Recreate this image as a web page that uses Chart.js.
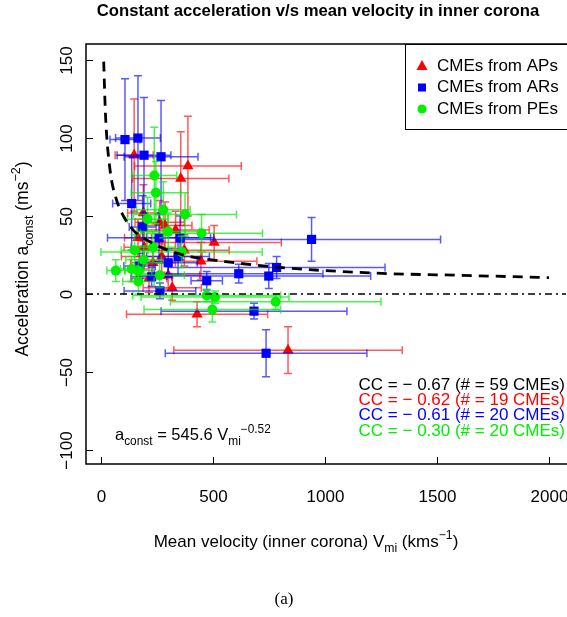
<!DOCTYPE html>
<html>
<head>
<meta charset="utf-8">
<script src="https://cdn.jsdelivr.net/npm/chart.js@4.4.0/dist/chart.umd.min.js"></script>
<style>
  html, body { margin: 0; padding: 0; background: #fff; overflow: hidden; }
</style>
</head>
<body>
<canvas id="chart" width="567" height="617"></canvas>
<script>
// CMEs from active prominences (APs) - red triangles
const apV    = [148, 388, 356, 189, 286, 333, 505, 193, 271, 446, 318, 429, 835, 232, 165, 262, 300, 214, 372];
const apA    = [ 89,  82,  74,  52,  44,  41,  33,  30,  24,  21,   4, -13, -36,  20,  36,  46,  12,  10,  28];
const apVerr = [ 85, 238, 215,  70, 120, 150, 300,  90, 180, 250, 130, 315, 510, 100,  60, 110, 140,  80, 200];
const apAerr = [ 36,  32,  30,  18,  15,  12,  11,  14,  10,  12,   8,   8,  15,  10,  12,  14,   9,   9,  10];

// CMEs from active regions (ARs) - blue squares
const arV    = [107, 165, 192, 268, 137, 186, 259, 353, 344, 940, 784, 615, 749, 472, 263, 683, 737, 226, 172, 300];
const arA    = [ 99, 100,  89,  88,  58,  43,  36,  36,  24,  35,  17,  13, 11.5, 8.5,  2, -11, -38,  11,  18,  20];
const arVerr = [ 67, 100, 120, 165,  85,  60, 230, 150, 140, 576, 484, 376, 455,  70, 160, 415, 450,  90,  70, 130];
const arAerr = [ 39,  40,  37,  36,  30,  20,  15,  14,  12,  14,   7,   6,   8,   6,   5,   5,  15,   6,   8,   9];

// CMEs from prominence eruptions (PEs) - green circles
const peV    = [238, 245, 278, 375, 208, 449, 360,  66, 137, 167, 167, 472, 509, 780, 497, 190, 232, 300, 150, 262];
const peA    = [ 76,  65,  54,  51,  48,  39,  27,  15,  16,  15,   8,  -1,  -2,  -5, -10,  22,  30,  40,  28,  12];
const peVerr = [100, 110, 120, 230,  90, 272, 360,  40,  50,  60,  70, 330, 330, 470, 305,  80, 100, 140,  60, 110];
const peAerr = [ 31,  20,  18,  14,  14,  12,  10,   7,   8,   7,   8,   4,   4,   5,   8,   9,  10,  12,  10,   8];

// power-law fit a_const = 545.6 V_mi^-0.52
const fitV = [12, 20, 40, 70, 100, 150, 200, 300, 400, 600, 800, 1000, 1300, 1600, 2000];
const fitA = [149, 115, 80, 60, 50, 40, 35, 28, 24, 20, 17, 15, 13, 12, 10.5];

const xTicks = [0, 500, 1000, 1500, 2000];
const yTicks = [-100, -50, 0, 50, 100, 150];
const legendLabels = ['CMEs from APs', 'CMEs from ARs', 'CMEs from PEs'];
const ccLines = ['CC = \u2212 0.67 (# = 59 CMEs)', 'CC = \u2212 0.62 (# = 19 CMEs)',
                 'CC = \u2212 0.61 (# = 20 CMEs)', 'CC = \u2212 0.30 (# = 20 CMEs)'];

const RED = '#FF0000', BLUE = '#0000FF', GREEN = '#00F000';
const FONT = "'Liberation Sans', Arial, Helvetica, sans-serif";
const X_MIN = -67, X_MAX = 2076, Y_MIN = -109, Y_MAX = 160.3;

function toPoints(xs, ys) {
    return xs.map((v, i) => ({ x: v, y: ys[i] }));
}

// draw text made of normal / sub / sup pieces
function richWidth(ctx, parts, size) {
    let w = 0;
    parts.forEach(([t, m]) => {
        ctx.font = (m ? size * 0.72 : size) + 'px ' + FONT;
        w += ctx.measureText(t).width;
    });
    return w;
}
function drawRich(ctx, parts, x, y, size) {
    let cx = x;
    parts.forEach(([t, m]) => {
        const s = m ? size * 0.72 : size;
        ctx.font = s + 'px ' + FONT;
        let dy = 0;
        if (m === 'sub') dy = size * 0.3;
        if (m === 'sup') dy = -size * 0.45;
        ctx.fillText(t, cx, y + dy);
        cx += ctx.measureText(t).width;
    });
}

// error bars drawn just before each dataset's markers
const errorBars = {
    id: 'errorBars',
    beforeDatasetDraw(chart, args) {
        const ds = chart.data.datasets[args.index];
        if (!ds.errX) return;
        const { ctx, chartArea: a } = chart;
        const xs = chart.scales.x, ys = chart.scales.y;
        ctx.save();
        ctx.beginPath();
        ctx.rect(a.left, a.top, a.right - a.left, a.bottom - a.top);
        ctx.clip();
        ctx.strokeStyle = ds.barColor;
        ctx.lineWidth = 1.5;
        ds.data.forEach((p, i) => {
            const px = xs.getPixelForValue(p.x), py = ys.getPixelForValue(p.y);
            const x0 = xs.getPixelForValue(p.x - ds.errX[i]), x1 = xs.getPixelForValue(p.x + ds.errX[i]);
            const y0 = ys.getPixelForValue(p.y - ds.errY[i]), y1 = ys.getPixelForValue(p.y + ds.errY[i]);
            ctx.beginPath();
            ctx.moveTo(x0, py); ctx.lineTo(x1, py);
            ctx.moveTo(x0, py - 4); ctx.lineTo(x0, py + 4);
            ctx.moveTo(x1, py - 4); ctx.lineTo(x1, py + 4);
            ctx.moveTo(px, y0); ctx.lineTo(px, y1);
            ctx.moveTo(px - 4, y0); ctx.lineTo(px + 4, y0);
            ctx.moveTo(px - 4, y1); ctx.lineTo(px + 4, y1);
            ctx.stroke();
        });
        ctx.restore();
    }
};

// frame, inward ticks, labels, legend and notes
const decor = {
    id: 'decor',
    afterDraw(chart) {
        const { ctx, chartArea: a } = chart;
        const xs = chart.scales.x, ys = chart.scales.y;
        ctx.save();
        ctx.strokeStyle = '#000';
        ctx.lineWidth = 1.5;
        ctx.strokeRect(a.left, a.top, a.right - a.left + 4, a.bottom - a.top);

        ctx.fillStyle = '#000';
        ctx.lineWidth = 1;
        xTicks.forEach(v => {
            const px = Math.round(xs.getPixelForValue(v)) + 0.5;
            ctx.beginPath(); ctx.moveTo(px, a.bottom); ctx.lineTo(px, a.bottom - 7); ctx.stroke();
            ctx.font = '17px ' + FONT;
            ctx.textAlign = 'center'; ctx.textBaseline = 'middle';
            ctx.fillText(String(v), px, 497);
        });
        yTicks.forEach(v => {
            const py = Math.round(ys.getPixelForValue(v)) + 0.5;
            ctx.beginPath(); ctx.moveTo(a.left, py); ctx.lineTo(a.left + 7, py); ctx.stroke();
            ctx.save();
            ctx.translate(67, py);
            ctx.rotate(-Math.PI / 2);
            ctx.font = '17px ' + FONT;
            ctx.textAlign = 'center'; ctx.textBaseline = 'middle';
            ctx.fillText(String(v).replace('-', '\u2212'), 0, 0);
            ctx.restore();
        });

        // title
        ctx.font = 'bold 16.7px ' + FONT;
        ctx.textAlign = 'center'; ctx.textBaseline = 'middle';
        ctx.fillText('Constant acceleration v/s mean velocity in inner corona', 318, 11);

        // axis titles
        ctx.textAlign = 'left'; ctx.textBaseline = 'alphabetic';
        const xt = [['Mean velocity (inner corona) V'], ['mi', 'sub'], [' (kms'], ['\u22121', 'sup'], [')']];
        const xw = richWidth(ctx, xt, 17);
        drawRich(ctx, xt, 306 - xw / 2, 547, 17);

        const yt = [['Acceleration a'], ['const', 'sub'], [' (ms'], ['\u22122', 'sup'], [')']];
        const yw = richWidth(ctx, yt, 17.5);
        ctx.save();
        ctx.translate(28, 259);
        ctx.rotate(-Math.PI / 2);
        drawRich(ctx, yt, -yw / 2, 0, 17.5);
        ctx.restore();

        // fit formula
        drawRich(ctx, [['a'], ['const', 'sub'], [' = 545.6 V'], ['mi', 'sub'], ['\u22120.52', 'sup']], 115, 440, 16.5);

        // correlation coefficients
        ctx.font = '17px ' + FONT;
        ctx.textAlign = 'right'; ctx.textBaseline = 'middle';
        const ccColors = ['#000', RED, BLUE, GREEN];
        ccLines.forEach((t, i) => {
            ctx.fillStyle = ccColors[i];
            ctx.fillText(t, 565, 385 + i * 15.4);
        });

        // legend
        ctx.fillStyle = '#fff';
        ctx.fillRect(405, 44, 170, 85);
        ctx.strokeStyle = '#000';
        ctx.lineWidth = 1;
        ctx.strokeRect(405.5, 44.5, 170, 85);
        const lc = [RED, BLUE, GREEN];
        legendLabels.forEach((t, i) => {
            const ly = 66 + i * 21.5;
            ctx.fillStyle = lc[i];
            ctx.beginPath();
            if (i === 0) {
                ctx.moveTo(422, ly - 6); ctx.lineTo(427.5, ly + 4); ctx.lineTo(416.5, ly + 4); ctx.closePath();
            } else if (i === 1) {
                ctx.rect(418, ly - 4, 8, 8);
            } else {
                ctx.arc(422, ly, 4.5, 0, Math.PI * 2);
            }
            ctx.fill();
            ctx.fillStyle = '#000';
            ctx.font = '17px ' + FONT;
            ctx.textAlign = 'left'; ctx.textBaseline = 'middle';
            ctx.fillText(t, 437, ly);
        });

        // panel caption
        ctx.font = "17px 'Liberation Serif', 'DejaVu Serif', serif";
        ctx.textAlign = 'center'; ctx.textBaseline = 'middle';
        ctx.fillText('(a)', 284, 600);
        ctx.restore();
    }
};

const ctx = document.getElementById('chart').getContext('2d');
new Chart(ctx, {
    type: 'scatter',
    data: {
        datasets: [
            {
                label: 'fit', data: toPoints(fitV, fitA), showLine: true, order: 0,
                borderColor: '#000', borderWidth: 2.8, borderDash: [10, 7],
                pointRadius: 0, cubicInterpolationMode: 'monotone'
            },
            {
                label: 'zero', data: [{ x: X_MIN, y: 0 }, { x: X_MAX, y: 0 }], showLine: true, order: 1,
                borderColor: '#000', borderWidth: 1.3, borderDash: [7, 4, 2, 4], pointRadius: 0
            },
            {
                label: legendLabels[2], data: toPoints(peV, peA), order: 2,
                errX: peVerr, errY: peAerr, barColor: 'rgba(0,235,0,0.7)',
                pointStyle: 'circle', pointRadius: 5, backgroundColor: GREEN, borderWidth: 0
            },
            {
                label: legendLabels[1], data: toPoints(arV, arA), order: 3,
                errX: arVerr, errY: arAerr, barColor: 'rgba(0,0,255,0.65)',
                pointStyle: 'rect', pointRadius: 6.5, backgroundColor: BLUE, borderWidth: 0
            },
            {
                label: legendLabels[0], data: toPoints(apV, apA), order: 4,
                errX: apVerr, errY: apAerr, barColor: 'rgba(255,0,0,0.65)',
                pointStyle: 'triangle', pointRadius: 6.5, backgroundColor: RED, borderWidth: 0
            }
        ]
    },
    options: {
        responsive: false,
        animation: false,
        devicePixelRatio: 1,
        layout: { autoPadding: false, padding: { left: 86, top: 44, right: 1, bottom: 153 } },
        plugins: { legend: { display: false }, tooltip: { enabled: false } },
        scales: {
            x: { type: 'linear', min: X_MIN, max: X_MAX, display: false },
            y: { type: 'linear', min: Y_MIN, max: Y_MAX, display: false }
        }
    },
    plugins: [errorBars, decor]
});
</script>
</body>
</html>
